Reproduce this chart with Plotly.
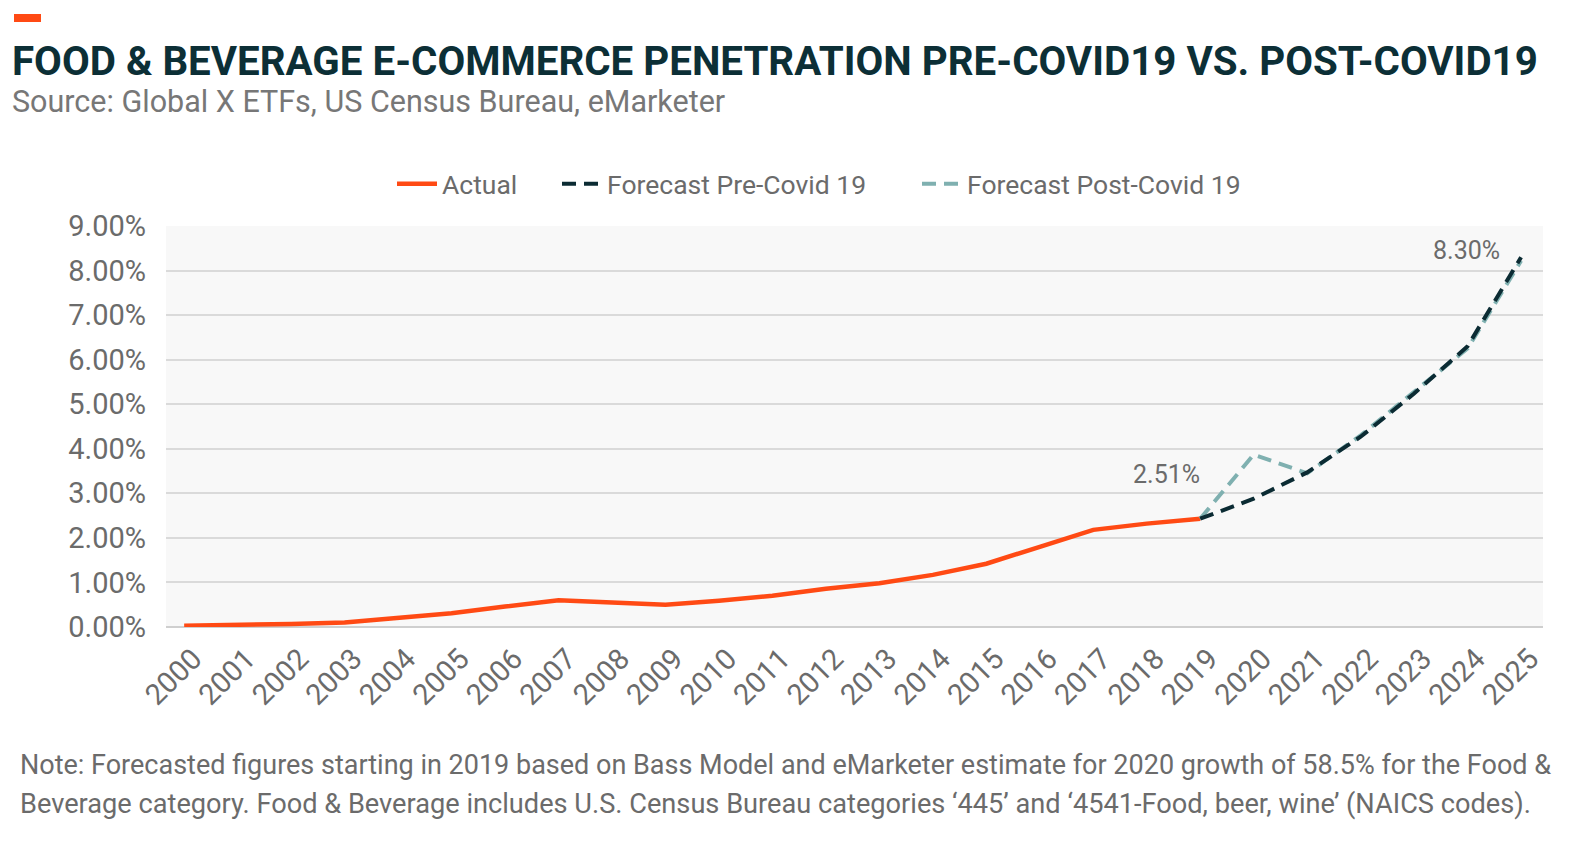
import plotly.graph_objects as go

years_actual = list(range(2000, 2020))
actual = [0.03, 0.04, 0.07, 0.10, 0.20, 0.31, 0.46, 0.60, 0.55, 0.50, 0.59, 0.70,
          0.86, 0.98, 1.17, 1.42, 1.80, 2.18, 2.32, 2.43]
years_fc = list(range(2019, 2026))
fc_pre = [2.43, 2.88, 3.47, 4.27, 5.24, 6.30, 8.30]
fc_post = [2.43, 3.87, 3.45, 4.30, 5.28, 6.25, 8.22]
ytick_vals = [0, 1, 2, 3, 4, 5, 6, 7, 8, 9]
ytick_text = ["0.00%", "1.00%", "2.00%", "3.00%", "4.00%", "5.00%", "6.00%", "7.00%", "8.00%", "9.00%"]
xtick_vals = list(range(2000, 2026))
label_2019 = "2.51%"
label_2025 = "8.30%"

W_FIG, H_FIG = 1574, 848
L, R, T, B = 166, 1543, 226, 627
PW, PH = R - L, B - T

def px(x):
    return (x - L) / PW

def py(y):
    return (B - y) / PH

ORANGE = "#FF4A14"
DARK = "#0B2B33"
TEAL = "#7FB0B0"
GRAY = "#6b6b6b"
FONT = "Roboto"

fig = go.Figure()
fig.add_trace(go.Scatter(x=years_actual, y=actual, mode="lines", name="Actual",
                         line=dict(color=ORANGE, width=4.5), legend="legend"))
fig.add_trace(go.Scatter(x=years_fc, y=fc_post, mode="lines", name="Forecast Post-Covid 19",
                         line=dict(color=TEAL, width=4, dash="14px,8px"), legend="legend3"))
fig.add_trace(go.Scatter(x=years_fc, y=fc_pre, mode="lines", name="Forecast Pre-Covid 19",
                         line=dict(color=DARK, width=4, dash="14px,8px"), legend="legend2"))

leg_common = dict(orientation="h", yanchor="middle", xanchor="left",
                  font=dict(size=26.5, color=GRAY, family=FONT), bgcolor="rgba(0,0,0,0)",
                  itemwidth=40)

fig.update_layout(
    width=W_FIG, height=H_FIG,
    margin=dict(l=L, r=W_FIG - R, t=T, b=H_FIG - B, autoexpand=False),
    paper_bgcolor="white", plot_bgcolor="#F8F8F8",
    font=dict(family=FONT, color=GRAY),
    showlegend=True,
    legend=dict(x=px(392), y=py(184), **leg_common),
    legend2=dict(x=px(557), y=py(184), **leg_common),
    legend3=dict(x=px(917), y=py(184), **leg_common),
    xaxis=dict(range=[1999.66, 2025.41], tickmode="array", tickvals=xtick_vals,
               ticktext=[str(v) for v in xtick_vals], tickangle=-45,
               tickfont=dict(size=29, color=GRAY), showgrid=False, zeroline=False,
               showline=False, ticks="", ticklabelstandoff=8, ticklabelshift=9),
    yaxis=dict(range=[0, 9], tickmode="array", tickvals=ytick_vals, ticktext=ytick_text,
               tickfont=dict(size=29, color=GRAY), gridcolor="#DADADA", gridwidth=1.5,
               zeroline=True, zerolinecolor="#CFCFCF", zerolinewidth=2,
               showline=False, ticks="", ticklabelstandoff=19),
)

fig.add_shape(type="rect", xref="paper", yref="paper",
              x0=px(14), x1=px(41), y0=py(22), y1=py(14),
              fillcolor=ORANGE, line=dict(width=0))

annos = [
    dict(text="<b>FOOD &amp; BEVERAGE E-COMMERCE PENETRATION PRE-COVID19 VS. POST-COVID19</b>",
         x=px(10), y=py(62), size=40.3, color="#0C2F36"),
    dict(text="Source: Global X ETFs, US Census Bureau, eMarketer",
         x=px(10), y=py(102), size=30.5, color="#777777"),
    dict(text="Note: Forecasted figures starting in 2019 based on Bass Model and eMarketer estimate for 2020 growth of 58.5% for the Food &amp;",
         x=px(18), y=py(765), size=27, color=GRAY),
    dict(text="Beverage category. Food &amp; Beverage includes U.S. Census Bureau categories ‘445’ and ‘4541-Food, beer, wine’ (NAICS codes).",
         x=px(18), y=py(804), size=27.2, color=GRAY),
]
for a in annos:
    fig.add_annotation(text=a["text"], xref="paper", yref="paper", x=a["x"], y=a["y"],
                       xanchor="left", yanchor="middle", showarrow=False,
                       font=dict(size=a["size"], color=a["color"], family=FONT))

fig.add_annotation(text=label_2019, x=years_actual[-1], y=actual[-1], xref="x", yref="y",
                   xanchor="right", yanchor="middle", xshift=2, yshift=44, showarrow=False,
                   font=dict(size=25, color=GRAY, family=FONT))
fig.add_annotation(text=label_2025, x=years_fc[-1], y=fc_pre[-1], xref="x", yref="y",
                   xanchor="right", yanchor="middle", xshift=-19, yshift=7, showarrow=False,
                   font=dict(size=25, color=GRAY, family=FONT))

fig.write_html("out.html", config={"displayModeBar": False},
               post_script="document.body.style.margin='0px';")
